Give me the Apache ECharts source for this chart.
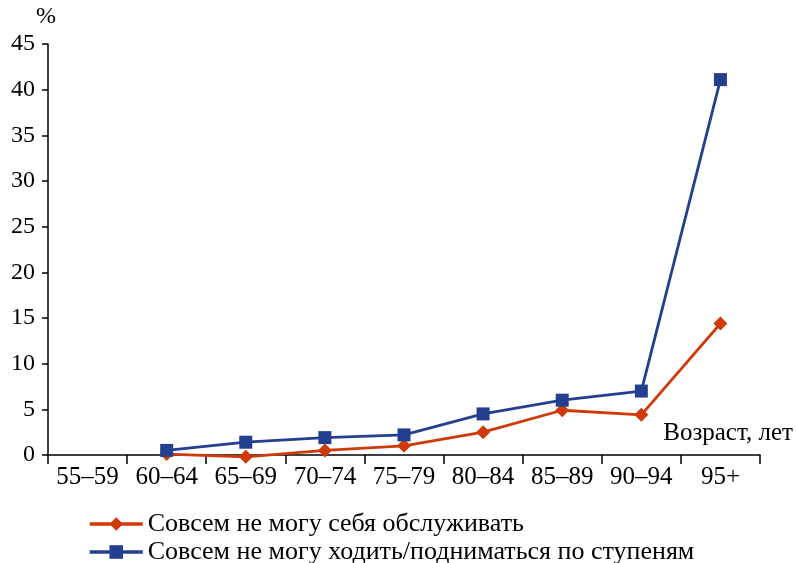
<!DOCTYPE html>
<html><head><meta charset="utf-8">
<script src="https://cdn.jsdelivr.net/npm/echarts@6/dist/echarts.min.js"></script>
<style>html,body{margin:0;padding:0;background:#fff}#c{width:796px;height:563px}</style>
</head><body><div id="c"></div>
<script>
const categories = ['55–59','60–64','65–69','70–74','75–79','80–84','85–89','90–94','95+'];
const selfCare = [null, 0.1, -0.2, 0.5, 1.0, 2.5, 4.9, 4.4, 14.4];
const walking = [null, 0.5, 1.4, 1.9, 2.2, 4.5, 6.0, 7.0, 41.1];
const seriesNames = ['Совсем не могу себя обслуживать', 'Совсем не могу ходить/подниматься по ступеням'];
const yTicks = {min: 0, max: 45, interval: 5};

const font = '"Liberation Serif", "DejaVu Serif", serif';
const legendBase = {
  orient: 'horizontal', left: 88, padding: 0, itemWidth: 53, itemHeight: 17, itemGap: 5,
  lineStyle: {width: 3.5},
  textStyle: {fontFamily: font, fontSize: 26, color: '#000'}
};
const chart = echarts.init(document.getElementById('c'));
chart.setOption({
  animation: false,
  textStyle: {fontFamily: font, color: '#000'},
  grid: {left: 48, right: 36, top: 44, bottom: 108},
  xAxis: {
    type: 'category', data: categories, boundaryGap: true,
    axisLine: {lineStyle: {color: '#000', width: 1.5}},
    axisTick: {show: true, length: 9, lineStyle: {color: '#000', width: 1.5}},
    axisLabel: {fontFamily: font, fontSize: 25, color: '#000', margin: 10, interval: 0}
  },
  yAxis: {
    type: 'value', min: yTicks.min, max: yTicks.max, interval: yTicks.interval,
    splitLine: {show: false},
    axisLine: {show: true, lineStyle: {color: '#000', width: 1.5}},
    axisTick: {show: true, length: 6, lineStyle: {color: '#000', width: 1.5}},
    axisLabel: {fontFamily: font, fontSize: 24, color: '#000', margin: 13}
  },
  legend: [
    Object.assign({}, legendBase, {top: 511, data: [seriesNames[0]]}),
    Object.assign({}, legendBase, {top: 539, data: [seriesNames[1]]})
  ],
  graphic: [
    {type: 'text', left: 36, top: 5, style: {text: '%', font: '24px ' + font, fill: '#000'}},
    {type: 'text', right: 3, top: 421, style: {text: 'Возраст, лет', font: '25px ' + font, fill: '#000'}}
  ],
  series: [
    {name: seriesNames[0], type: 'line', data: selfCare, clip: false,
     symbol: 'diamond', symbolSize: 14,
     itemStyle: {color: '#D03A0A'}, lineStyle: {color: '#D03A0A', width: 2.8}},
    {name: seriesNames[1], type: 'line', data: walking, clip: false,
     symbol: 'rect', symbolSize: 13,
     itemStyle: {color: '#243F8F'}, lineStyle: {color: '#243F8F', width: 2.8}}
  ]
});
</script></body></html>
